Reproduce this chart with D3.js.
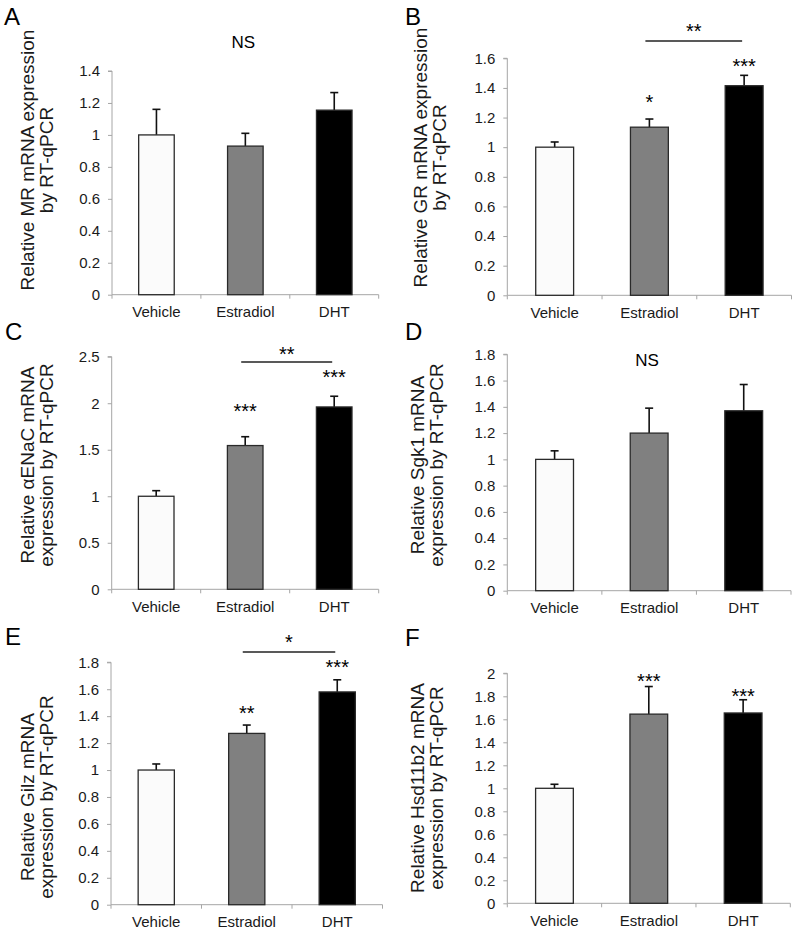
<!DOCTYPE html>
<html>
<head>
<meta charset="utf-8">
<script src="https://cdn.jsdelivr.net/npm/d3@7"></script>
<style>
  html, body { margin: 0; padding: 0; background: #fff; }
  svg { display: block; font-family: "Liberation Sans", Arial, Helvetica, sans-serif; }
</style>
</head>
<body>
<svg id="chart" width="798" height="934"></svg>
<script>
// ---------------- data ----------------
const categories = ["Vehicle", "Estradiol", "DHT"];

const mrMeans   = [1.00, 0.93, 1.155];
const mrErrors  = [0.16, 0.08, 0.11];
const grMeans   = [1.00, 1.135, 1.415];
const grErrors  = [0.035, 0.055, 0.07];
const enacMeans = [1.00, 1.545, 1.96];
const enacErrors= [0.06, 0.095, 0.115];
const sgk1Means = [1.00, 1.20, 1.37];
const sgk1Errors= [0.065, 0.19, 0.20];
const gilzMeans = [1.00, 1.272, 1.58];
const gilzErrors= [0.045, 0.062, 0.09];
const hsdMeans  = [1.00, 1.645, 1.655];
const hsdErrors = [0.035, 0.24, 0.115];

const ticksA = ["0", "0.2", "0.4", "0.6", "0.8", "1", "1.2", "1.4"];
const ticksB = ["0", "0.2", "0.4", "0.6", "0.8", "1", "1.2", "1.4", "1.6"];
const ticksC = ["0", "0.5", "1", "1.5", "2", "2.5"];
const ticksD = ["0", "0.2", "0.4", "0.6", "0.8", "1", "1.2", "1.4", "1.6", "1.8"];
const ticksE = ["0", "0.2", "0.4", "0.6", "0.8", "1", "1.2", "1.4", "1.6", "1.8"];
const ticksF = ["0", "0.2", "0.4", "0.6", "0.8", "1", "1.2", "1.4", "1.6", "1.8", "2"];

const titleA = ["Relative MR mRNA expression", "by RT-qPCR"];
const titleB = ["Relative GR mRNA expression", "by RT-qPCR"];
const titleC = ["Relative \u03B1ENaC mRNA", "expression by RT-qPCR"];
const titleD = ["Relative Sgk1 mRNA", "expression by RT-qPCR"];
const titleE = ["Relative Gilz mRNA", "expression by RT-qPCR"];
const titleF = ["Relative Hsd11b2 mRNA", "expression by RT-qPCR"];

// significance marks: single-bar stars (cat, label, level in data units)
const starsA = [];
const starsB = [{cat: "Estradiol", label: "*", level: 1.256}, {cat: "DHT", label: "***", level: 1.504}];
const starsC = [{cat: "Estradiol", label: "***", level: 1.838}, {cat: "DHT", label: "***", level: 2.203}];
const starsD = [];
const starsE = [{cat: "Estradiol", label: "**", level: 1.371}, {cat: "DHT", label: "***", level: 1.71}];
const starsF = [{cat: "Estradiol", label: "***", level: 1.87}, {cat: "DHT", label: "***", level: 1.745}];

// brackets between bars (from, to, label, level of line, level of label)
const bracketsB = [{from: "Estradiol", to: "DHT", label: "**", level: 1.717, textLevel: 1.74}];
const bracketsC = [{from: "Estradiol", to: "DHT", label: "**", level: 2.443, textLevel: 2.454}];
const bracketsE = [{from: "Estradiol", to: "DHT", label: "*", level: 1.876, textLevel: 1.896}];

// non-significance notes
const notesA = [{cat: "Estradiol", label: "NS", level: 1.542}];
const notesD = [{cat: "Estradiol", label: "NS", level: 1.711}];

// ---------------- layout (pixels) ----------------
const panels = [
  {letter: "A", means: mrMeans, errs: mrErrors, ticks: ticksA, title: titleA, stars: starsA, brackets: [], notes: notesA,
   x0: 112, x1: 378.7, y0: 294.7, y1: 71, lx: 4, ly: 25, tx: [34, 53], ty: 160},
  {letter: "B", means: grMeans, errs: grErrors, ticks: ticksB, title: titleB, stars: starsB, brackets: bracketsB, notes: [],
   x0: 507.3, x1: 791.5, y0: 295.3, y1: 58.3, lx: 405, ly: 25, tx: [427, 446], ty: 157.5},
  {letter: "C", means: enacMeans, errs: enacErrors, ticks: ticksC, title: titleC, stars: starsC, brackets: bracketsC, notes: [],
   x0: 111.7, x1: 378.7, y0: 589.3, y1: 356.7, lx: 5, ly: 340, tx: [34, 53], ty: 465},
  {letter: "D", means: sgk1Means, errs: sgk1Errors, ticks: ticksD, title: titleD, stars: starsD, brackets: [], notes: notesD,
   x0: 507.3, x1: 791, y0: 590.7, y1: 354.3, lx: 405, ly: 340, tx: [424, 443], ty: 465},
  {letter: "E", means: gilzMeans, errs: gilzErrors, ticks: ticksE, title: titleE, stars: starsE, brackets: bracketsE, notes: [],
   x0: 111, x1: 382.5, y0: 904.7, y1: 662.3, lx: 5, ly: 645, tx: [34, 53], ty: 797},
  {letter: "F", means: hsdMeans, errs: hsdErrors, ticks: ticksF, title: titleF, stars: starsF, brackets: [], notes: [],
   x0: 507.3, x1: 790.3, y0: 903.3, y1: 673.3, lx: 405, ly: 646, tx: [424, 443], ty: 788}
];

const fills = ["#fbfbfb", "#808080", "#000000"];
const axisColor = "#a6a6a6";
const textColor = "#1a1a1a";

const svg = d3.select("#chart");

panels.forEach(p => {
  const g = svg.append("g");
  const tickVals = p.ticks.map(Number);
  const yMax = d3.max(tickVals);
  const y = d3.scaleLinear().domain([0, yMax]).range([p.y0, p.y1]);
  const x = d3.scaleBand().domain(categories).range([p.x0, p.x1]).padding(0);
  const bw = x.bandwidth() * 0.4;

  // panel letter
  g.append("text").attr("x", p.lx).attr("y", p.ly)
    .attr("font-size", 24).attr("fill", "#000").text(p.letter);

  // y axis
  const yAxis = d3.axisLeft(y).tickValues(tickVals)
    .tickFormat((d, i) => p.ticks[i]).tickSize(4).tickPadding(8);
  const ya = g.append("g").attr("transform", `translate(${p.x0},0)`).call(yAxis);
  ya.select(".domain").attr("stroke", axisColor).attr("d", `M-4,${p.y1}H0V${p.y0}`);
  ya.selectAll(".tick line").attr("stroke", axisColor);
  ya.selectAll(".tick text").attr("fill", textColor).attr("font-size", 15)
    .attr("font-family", '"Liberation Sans", Arial, sans-serif');

  // x axis: labels centred, ticks at band boundaries
  const xAxis = d3.axisBottom(x).tickSize(0).tickPadding(12);
  const xa = g.append("g").attr("transform", `translate(0,${p.y0})`).call(xAxis);
  xa.select(".domain").attr("stroke", axisColor).attr("d", `M${p.x0},0H${p.x1}`);
  xa.selectAll(".tick text").attr("fill", textColor).attr("font-size", 15)
    .attr("font-family", '"Liberation Sans", Arial, sans-serif');
  const bounds = categories.map(c => x(c)).concat([x(categories[categories.length - 1]) + x.bandwidth()]);
  g.selectAll(".xb").data(bounds).join("line")
    .attr("x1", d => d).attr("x2", d => d)
    .attr("y1", p.y0).attr("y2", p.y0 + 4)
    .attr("stroke", axisColor);

  // error bars (upper only)
  const cx = c => x(c) + x.bandwidth() / 2;
  categories.forEach((c, i) => {
    const top = y(p.means[i] + p.errs[i]);
    g.append("line").attr("x1", cx(c)).attr("x2", cx(c))
      .attr("y1", y(p.means[i])).attr("y2", top)
      .attr("stroke", "#111").attr("stroke-width", 1.6);
    g.append("line").attr("x1", cx(c) - 4).attr("x2", cx(c) + 4)
      .attr("y1", top).attr("y2", top)
      .attr("stroke", "#111").attr("stroke-width", 1.6);
  });

  // bars
  g.selectAll(".bar").data(categories).join("rect")
    .attr("x", c => cx(c) - bw / 2)
    .attr("width", bw)
    .attr("y", (c, i) => y(p.means[i]))
    .attr("height", (c, i) => y(0) - y(p.means[i]))
    .attr("fill", (c, i) => fills[i])
    .attr("stroke", "#2a2a2a").attr("stroke-width", 1.3);

  // stars
  p.stars.forEach(s => {
    g.append("text").attr("x", cx(s.cat)).attr("y", y(s.level))
      .attr("text-anchor", "middle").attr("font-size", 20).attr("fill", "#000")
      .text(s.label);
  });

  // brackets
  p.brackets.forEach(b => {
    const xa1 = cx(b.from) - 4, xa2 = cx(b.to) - 2;
    g.append("line").attr("x1", xa1).attr("x2", xa2)
      .attr("y1", y(b.level)).attr("y2", y(b.level))
      .attr("stroke", "#222").attr("stroke-width", 1.4);
    g.append("text").attr("x", (xa1 + xa2) / 2).attr("y", y(b.textLevel))
      .attr("text-anchor", "middle").attr("font-size", 20).attr("fill", "#000")
      .text(b.label);
  });

  // NS notes
  p.notes.forEach(n => {
    g.append("text").attr("x", cx(n.cat) - 2).attr("y", y(n.level))
      .attr("text-anchor", "middle").attr("font-size", 17).attr("fill", "#000")
      .text(n.label);
  });

  // y title (two lines, rotated)
  p.title.forEach((line, i) => {
    g.append("text")
      .attr("transform", `translate(${p.tx[i]},${p.ty}) rotate(-90)`)
      .attr("text-anchor", "middle").attr("font-size", 19).attr("fill", textColor)
      .text(line);
  });
});
</script>
</body>
</html>
